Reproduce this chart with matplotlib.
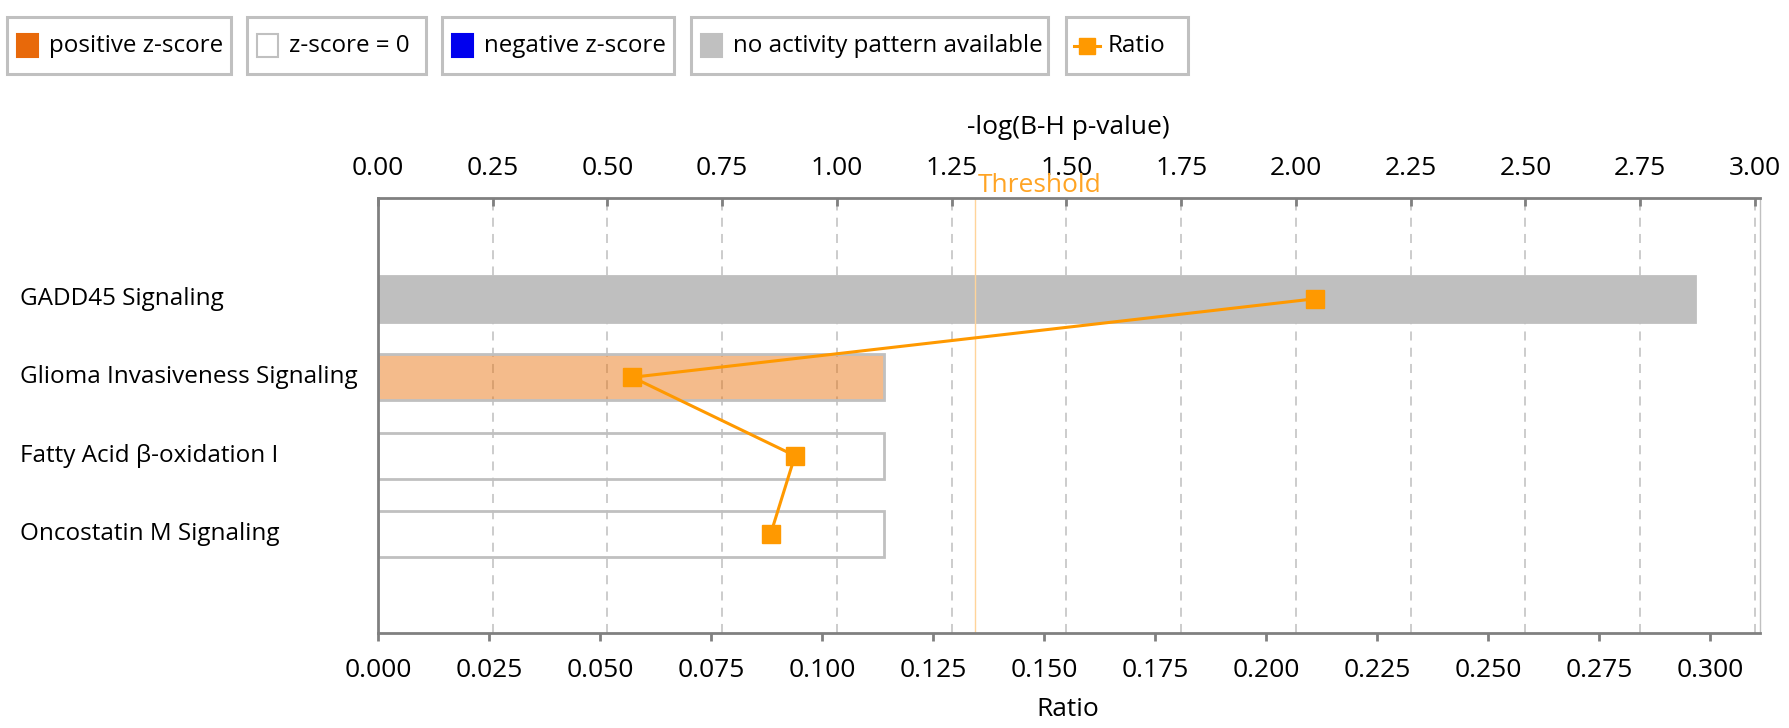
import matplotlib
matplotlib.use("Agg")
import matplotlib.pyplot as plt
from matplotlib import transforms
from matplotlib.patches import Rectangle
from matplotlib.lines import Line2D

plt.rcParams['font.family'] = ['Open Sans', 'DejaVu Sans']

# data
pathways = ["GADD45 Signaling", "Glioma Invasiveness Signaling",
            "Fatty Acid β-oxidation I", "Oncostatin M Signaling"]
neg_log_p = [2.869, 1.103, 1.103, 1.103]
ratio = [0.211, 0.0573, 0.0939, 0.0884]
bar_colors = ["#bfbfbf", "#e8700a78", "none", "none"]
bar_edges = ["#bfbfbf", "#c0c0c0", "#c0c0c0", "#c0c0c0"]
threshold = 1.301

p_ticks = [0.0, 0.25, 0.5, 0.75, 1.0, 1.25, 1.5, 1.75, 2.0, 2.25, 2.5, 2.75, 3.0]
ratio_ticks = [0.0, 0.025, 0.05, 0.075, 0.1, 0.125, 0.15, 0.175, 0.2, 0.225, 0.25, 0.275, 0.3]

legend_labels = ["positive z-score", "z-score = 0", "negative z-score",
                 "no activity pattern available", "Ratio"]
legend_colors = ["#e8690a", "#ffffff", "#0000ee", "#c0c0c0", "#ff9900"]

W, H = 1790, 728
fig = plt.figure(figsize=(W / 100, H / 100), dpi=100)


def fx(x):
    return x / W


def fy(y):
    return 1 - y / H


# axes box in pixels: left 378, right 1759.5, top 198, bottom 633
ax = fig.add_axes([fx(378), fy(633), fx(1759.5) - fx(378), fy(198) - fy(633)])
ax_r = ax.twiny()

gray = "#808080"
ypos = list(range(len(pathways)))

ax.set_axisbelow(True)
ax.barh(ypos, neg_log_p, height=0.59, color=bar_colors, edgecolor=bar_edges, linewidth=2)
ax.axvline(threshold, color="#ffd49a", lw=1, zorder=1)
ax.annotate("Threshold", xy=(threshold, -1.284), xytext=(2, 4.5),
            textcoords="offset points", ha="left", va="baseline",
            color="#ffa424", fontsize=19, annotation_clip=False)

ax.set_xlim(0, 3.01)
ax.set_ylim(4.258, -1.284)
ax.set_yticks([])
ax.xaxis.set_ticks_position("top")
ax.xaxis.set_label_position("top")
ax.set_xticks(p_ticks)
ax.set_xticklabels([f"{t:.2f}" for t in p_ticks])
ax.tick_params(axis="x", direction="in", length=6, width=2, color=gray,
               labelsize=19, pad=12, top=True, bottom=False)
ax.grid(axis="x", color="#c8c8c8", linestyle=(0, (5, 4)), linewidth=1.3)

for side in ["top", "left"]:
    ax.spines[side].set_color(gray)
    ax.spines[side].set_linewidth(2)
ax.spines["bottom"].set_visible(False)
ax.spines["right"].set_color("#c0c0c0")
ax.spines["right"].set_linewidth(1)

# ratio line on bottom axis
ax_r.plot(ratio, ypos, color="#ff9900", lw=2.2, marker="s", markersize=13,
          markerfacecolor="#ff9900", markeredgecolor="#ff9900", zorder=5)
ax_r.set_xlim(0, 0.3111)
ax_r.xaxis.set_ticks_position("bottom")
ax_r.set_xticks(ratio_ticks)
ax_r.set_xticklabels([f"{t:.3f}" for t in ratio_ticks])
ax_r.tick_params(axis="x", direction="out", length=6, width=2, color=gray,
                 labelsize=19, pad=12, top=False, bottom=True)
for side in ["top", "left", "right"]:
    ax_r.spines[side].set_visible(False)
ax_r.spines["bottom"].set_visible(True)
ax_r.spines["bottom"].set_color(gray)
ax_r.spines["bottom"].set_linewidth(2)

# row labels, left aligned at the figure edge
trans = transforms.blended_transform_factory(fig.transFigure, ax.transData)
for y, name in zip(ypos, pathways):
    ax.text(fx(20), y, name, transform=trans, ha="left", va="center", fontsize=17.5)

fig.text(fx(1068), fy(128), "-log(B-H p-value)", ha="center", va="center", fontsize=19)
fig.text(fx(1068), fy(710), "Ratio", ha="center", va="center", fontsize=19)

# legend boxes
boxes = [(7, 231), (247, 426), (442, 674), (691, 1048), (1066, 1188)]
top_y, bot_y = 17, 74
mid_y = (top_y + bot_y) / 2
for (x0, x1), label, col in zip(boxes, legend_labels, legend_colors):
    fig.add_artist(Rectangle((fx(x0), fy(bot_y)), fx(x1) - fx(x0), fy(top_y) - fy(bot_y),
                             transform=fig.transFigure, facecolor="white",
                             edgecolor="#c0c0c0", linewidth=2.2))
    if label == "Ratio":
        fig.add_artist(Line2D([fx(x0 + 8), fx(x0 + 34)], [fy(mid_y), fy(mid_y)],
                              transform=fig.transFigure, color=col, lw=2.2,
                              marker=None))
        fig.add_artist(Line2D([fx(x0 + 21)], [fy(mid_y)], transform=fig.transFigure,
                              color=col, marker="s", markersize=11, linestyle="none"))
    else:
        edge = "#c0c0c0" if col == "#ffffff" else col
        fig.add_artist(Rectangle((fx(x0 + 10), fy(mid_y + 11)), fx(21), fy(0) - fy(23),
                                 transform=fig.transFigure, facecolor=col,
                                 edgecolor=edge, linewidth=1.5))
    fig.text(fx(x0 + 42), fy(mid_y + 1), label, ha="left", va="center", fontsize=17.4)

fig.savefig("out.png", dpi=100)
